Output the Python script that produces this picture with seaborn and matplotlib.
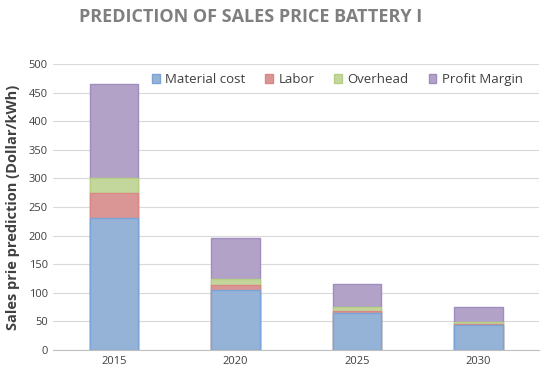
import numpy as np
import pandas as pd
import seaborn as sns
import matplotlib.pyplot as plt

years = ["2015", "2020", "2025", "2030"]
material = [230, 105, 65, 43]
labor = [45, 8, 4, 3]
overhead = [25, 12, 7, 3]
profit = [165, 70, 40, 27]

names = ["Material cost", "Labor", "Overhead", "Profit Margin"]
colors = ["#95B3D7", "#DA9694", "#C3D69B", "#B3A2C7"]
edges = ["#7BA3D6", "#D98886", "#B5CF84", "#A08DC0"]

sns.set_style("white")
plt.rcParams['font.family'] = ['Open Sans', 'DejaVu Sans']

df = pd.DataFrame({"year": years, "Material cost": material, "Labor": labor,
                   "Overhead": overhead, "Profit Margin": profit})
cum = df[names].cumsum(axis=1)

fig = plt.figure(figsize=(5.5, 3.74), dpi=100)
ax = fig.add_axes([0.097, 0.064, 0.883, 0.765])

# stacked look: draw cumulative totals from tallest down
for i in range(len(names) - 1, -1, -1):
    sns.barplot(x=df["year"], y=cum[names[i]], color=colors[i], ax=ax,
                width=0.4, edgecolor=edges[i], linewidth=1, saturation=1,
                label=names[i])

ax.set_ylim(0, 500)
ax.set_xlim(-0.5, 3.5)
ax.set_yticks(range(0, 501, 50))
ax.yaxis.grid(True, color="#D9D9D9", linewidth=0.8)
ax.set_axisbelow(True)
for s in ["top", "right", "left"]:
    ax.spines[s].set_visible(False)
ax.spines["bottom"].set_color("#BFBFBF")
ax.tick_params(axis="both", length=0, labelsize=8, colors="#404040", pad=4)
ax.set_xlabel("")
ax.set_ylabel("Sales prie prediction (Dollar/kWh)", fontsize=10.5,
              fontweight="bold", color="#404040", labelpad=6)

h, l = ax.get_legend_handles_labels()
order = [l.index(n) for n in names]
ax.legend([h[k] for k in order], names, loc="upper center",
          bbox_to_anchor=(0.585, 1.01), ncol=4, frameon=False, fontsize=9.5,
          handlelength=0.6, handleheight=0.6, handletextpad=0.4,
          columnspacing=1.5, labelcolor="#404040")

fig.text(0.455, 0.955, "PREDICTION OF SALES PRICE BATTERY I", ha="center",
         va="center", fontsize=13, fontweight="bold", color="#7F7F7F")

fig.savefig("out.png", dpi=100)
